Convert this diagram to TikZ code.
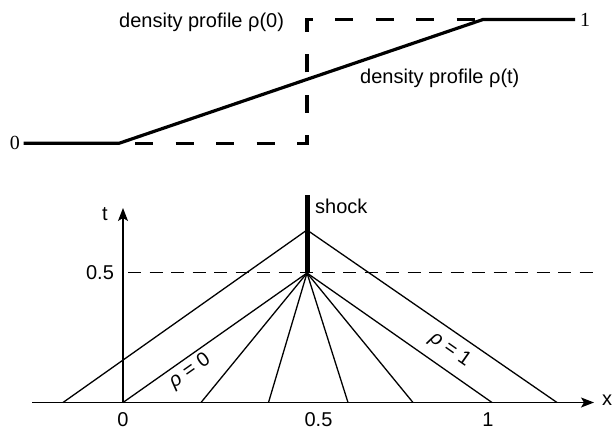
\documentclass[tikz,border=0pt]{standalone}
\usepackage{fontspec}
\setmainfont{Liberation Sans}
\newfontfamily\seriffont{Liberation Serif}
\usetikzlibrary{arrows.meta}
\begin{document}
\begin{tikzpicture}[x=1pt,y=-1pt,
  lbl/.style={inner sep=0pt,font=\fontsize{20}{24}\selectfont},
  slbl/.style={inner sep=0pt,font=\seriffont\fontsize{20}{24}\selectfont},
  profile/.style={line width=3.2pt},
  initprof/.style={line width=3.2pt,dash pattern=on 18pt off 22.5pt,dash phase=24.5pt},
  ray/.style={line width=1.3pt},
  axisline/.style={line width=1.2pt,-{Stealth[length=13pt,width=10pt,inset=3pt]}},
  shockline/.style={line width=5pt},
  halfline/.style={line width=1.2pt,dash pattern=on 13pt off 8.5pt}]
\useasboundingbox (0,0) rectangle (613,429);
% ---------- top: density profiles ----------
\coordinate (pa) at (23.5,143.3);
\coordinate (pb) at (119,143.3);
\coordinate (pc) at (483,19.5);
\coordinate (pd) at (575,19.5);
\coordinate (qa) at (307,143.3);
\coordinate (qb) at (307,19.5);
\draw[initprof] (pb) -- (qa) -- (qb) -- (pc);
\draw[profile] (pa) -- (pb) -- (pc) -- (pd);
\node[slbl,anchor=east] (zero) at (20,143.3) {0};
\node[slbl,anchor=west] (one) at (580,19.5) {1};
\node[lbl,anchor=base west] (rho0) at (119,27.5) {density profile ρ(0)};
\node[lbl,anchor=base west] (rhot) at (360,83) {density profile ρ(t)};
% ---------- bottom: characteristics ----------
\coordinate (xs) at (32,402.5);
\coordinate (xe) at (594,402.5);
\coordinate (o) at (123,402.5);
\coordinate (te) at (123,208);
\draw[axisline] (xs) -- (xe);
\draw[axisline] (o) -- (te);
\coordinate (hs) at (128,272.5);
\coordinate (he) at (595,272.5);
\draw[halfline] (hs) -- (he);
\coordinate (fan) at (307,273);
\coordinate (top) at (307,230);
\coordinate (stop) at (307,195);
\foreach \f [count=\i] in {123,201,268.5,348,413,492}{
  \coordinate (foot\i) at (\f,402.5);
  \draw[ray] (fan) -- (foot\i);
}
\coordinate (outl) at (63,402.5);
\coordinate (outr) at (557,402.5);
\draw[ray] (outl) -- (top) -- (outr);
\draw[shockline] (fan) -- (stop);
\node[lbl,anchor=base west] (shock) at (315,213) {shock};
\node[lbl] (tl) at (105,214) {t};
\node[lbl] (xl) at (607,400) {x};
\node[lbl] (half) at (100,272.5) {0.5};
\node[lbl,anchor=base] (x0) at (123,426.3) {0};
\node[lbl,anchor=base] (x05) at (318.5,426.3) {0.5};
\node[lbl,anchor=base] (x1) at (488,426.3) {1};
\node[lbl,rotate=35] (r0) at (190,371) {{\itshape ρ} = 0};
\node[lbl,rotate=-35] (r1) at (450,350) {{\itshape ρ} = 1};
\end{tikzpicture}
\end{document}
